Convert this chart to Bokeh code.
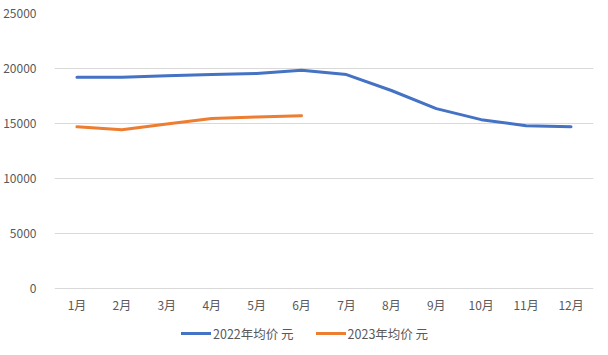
from bokeh.plotting import figure
from bokeh.models import Range1d, Legend, LegendItem, FixedTicker, FactorRange
from bokeh.embed import file_html
from bokeh.resources import INLINE

months = ["1月", "2月", "3月", "4月", "5月", "6月", "7月", "8月", "9月", "10月", "11月", "12月"]
avg_2022 = [19200, 19200, 19350, 19450, 19550, 19850, 19450, 18000, 16350, 15350, 14800, 14700]
months_2023 = ["1月", "2月", "3月", "4月", "5月", "6月"]
avg_2023 = [14700, 14430, 14950, 15450, 15600, 15700]
series_names = ["2022年均价 元", "2023年均价 元"]
y_ticks = [0, 5000, 10000, 15000, 20000, 25000]

FONT = "Noto Sans CJK SC"
TXT = "#595959"

# frame runs to the bottom of the canvas; the x axis is pinned at y=0 and the legend sits beneath it
p = figure(x_range=FactorRange(*months, range_padding=0), y_range=Range1d(-6091, 25000),
           width=608, height=355, output_backend="svg", toolbar_location=None,
           min_border_left=53, min_border_right=15, min_border_top=13, min_border_bottom=0)
p.outline_line_color = None
p.background_fill_color = "white"

r1 = p.line(months, avg_2022, line_color="#4472C4", line_width=3, line_join="round", line_cap="round")
r2 = p.line(months_2023, avg_2023, line_color="#ED7D31", line_width=3, line_join="round", line_cap="round")

p.xgrid.grid_line_color = None
p.ygrid.grid_line_color = "#D9D9D9"
p.ygrid.grid_line_width = 1
p.yaxis.ticker = FixedTicker(ticks=y_ticks)
p.xaxis.fixed_location = 0

for ax in (p.xaxis[0], p.yaxis[0]):
    ax.axis_line_color = None
    ax.major_tick_line_color = None
    ax.minor_tick_line_color = None
    ax.major_label_text_font = FONT
    ax.major_label_text_font_size = "12px"
    ax.major_label_text_color = TXT
p.yaxis.major_label_standoff = 12
p.xaxis.major_label_standoff = 2

legend = Legend(items=[LegendItem(label=series_names[0], renderers=[r1]),
                       LegendItem(label=series_names[1], renderers=[r2])],
                orientation="horizontal", location=(127, 12))
legend.label_text_font = FONT
legend.label_text_font_size = "12.5px"
legend.label_text_color = TXT
legend.glyph_width = 30
legend.label_standoff = 2
legend.spacing = 22
legend.border_line_color = None
legend.background_fill_alpha = 0
legend.margin = 0
legend.padding = 0
p.add_layout(legend)

open("out.html", "w").write(file_html(p, INLINE))
